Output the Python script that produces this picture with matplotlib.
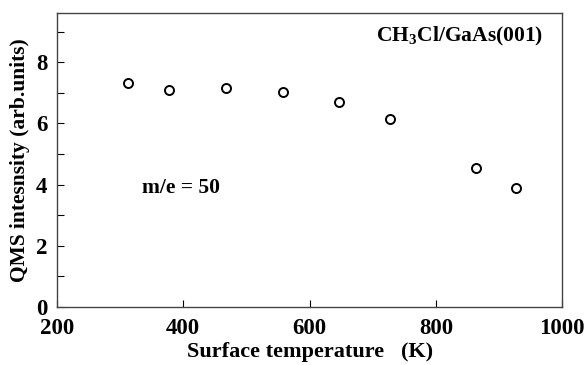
import matplotlib
matplotlib.use("Agg")
import matplotlib.pyplot as plt
from matplotlib.ticker import MultipleLocator

temperature = [313, 377, 468, 558, 646, 727, 863, 927]
intensity = [7.31, 7.09, 7.15, 7.03, 6.71, 6.14, 4.53, 3.88]

plt.rcParams['font.family'] = ['Liberation Serif', 'DejaVu Serif']
plt.rcParams['font.weight'] = 'bold'
plt.rcParams['mathtext.fontset'] = 'custom'
plt.rcParams['mathtext.bf'] = 'Liberation Serif:bold'

fig = plt.figure(figsize=(5.86, 3.65), dpi=100)
ax = fig.add_axes([0.0973, 0.159, 0.862, 0.805])

ax.plot(temperature, intensity, 'o', mfc='white', mec='black', ms=6.5, mew=1.4)

ax.set_xlim(200, 1000)
ax.set_ylim(0, 9.6)
ax.xaxis.set_major_locator(MultipleLocator(200))
ax.yaxis.set_major_locator(MultipleLocator(2))
ax.yaxis.set_minor_locator(MultipleLocator(1))
ax.tick_params(direction='in', length=5, width=0.8, labelsize=16.5, top=False, right=False)
ax.tick_params(axis='x', pad=8)
ax.tick_params(axis='y', pad=7)
ax.tick_params(which='minor', direction='in', length=5, width=0.8)
for s in ax.spines.values():
    s.set_color('#444444')
    s.set_linewidth(1.0)

ax.set_xlabel('Surface temperature   (K)', fontsize=16, fontweight='bold', labelpad=2)
ax.set_ylabel('QMS intesnsity (arb.units)', fontsize=15.5, fontweight='bold', labelpad=4)

ax.text(335, 3.9, 'm/e = 50', fontsize=15.5, fontweight='bold', va='center', ha='left')
ax.text(0.962, 0.92, r'CH$_\mathbf{3}$Cl/GaAs(001)', transform=ax.transAxes,
        fontsize=15.5, fontweight='bold', va='center', ha='right')

fig.savefig('out.png', dpi=100)
